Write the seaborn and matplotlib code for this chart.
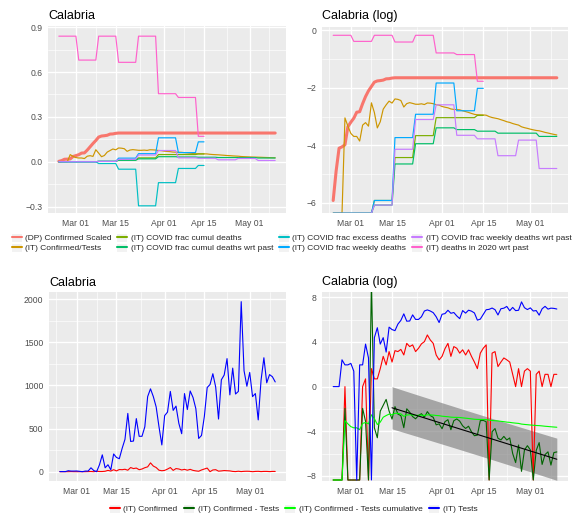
import numpy as np
import pandas as pd
import matplotlib
matplotlib.use("Agg")
import matplotlib.pyplot as plt
import matplotlib.dates as mdates
from matplotlib.lines import Line2D
from matplotlib.patches import Rectangle
import seaborn as sns

sns.set_theme(style="darkgrid")
plt.rcParams["font.family"] = ["Liberation Sans", "DejaVu Sans"]

# ---------------- data ----------------
dates = pd.date_range("2020-02-24", "2020-05-10", freq="D")   # 77 days

# (DP) Confirmed Scaled (daily)
dp_confirmed_scaled = [0.0027, 0.0075, 0.0166, 0.0174, 0.0187, 0.035, 0.041, 0.047,
                       0.058, 0.059, 0.078, 0.100, 0.122, 0.142, 0.165, 0.172, 0.174,
                       0.177, 0.185, 0.186, 0.190] + [0.192] * 56

# weekly ISTAT-like fractions (weeks starting Feb 24, Mar 02, ...)
deaths_2020_wrt_past_w = [0.84, 0.68, 0.84, 0.665, 0.84, 0.455, 0.43, 0.17]
covid_frac_excess_w = [0.0, 0.0, -0.012, -0.05, -0.295, -0.14, -0.045, -0.025]
covid_frac_weekly_w = [0.0, 0.0, 0.0027, 0.024, 0.054, 0.16, 0.061, 0.133]
covid_frac_cumul_w = [0.0, 0.0, 0.0027, 0.012, 0.0257, 0.048, 0.048, 0.052]
covid_frac_cumul_past_w = [0.0, 0.0, 0.0023, 0.0096, 0.0194, 0.0337, 0.0317, 0.030,
                           0.028, 0.028, 0.025]
covid_frac_weekly_past_w = [0.0, 0.0, 0.0023, 0.016, 0.045, 0.075, 0.026, 0.023,
                            0.0128, 0.022, 0.0082]
last_weekly_day = 51   # weekly series that stop at Apr 15

# daily confirmed cases and tests
confirmed = [0, 0, 0, 0, 1, 0, 0, 0, 0, 0, 1, 2, 0, 5, 2, 2, 5, 15, 7, 23, 9,
             25, 23, 28, 17, 48, 36, 42, 23, 31, 46, 56, 102, 65, 48, 17, 11, 15,
             30, 48, 15, 36, 31, 20, 27, 17, 27, 15, 9, 5, 20, 31, 42, 0, 20, 23,
             6, 9, 13, 11, 9, 3, 1, 5, 1, 4, 5, 4, 0, 3, 4, 1, 3, 3, 1, 3, 3]
tests = [1, 1, 1, 11, 7, 7, 8, 4, 0, 7, 7, 45, 13, 0, 80, 195, 45, 80, 22, 205, 165,
         150, 270, 375, 675, 350, 355, 615, 410, 410, 520, 870, 960, 870, 750, 520,
         310, 650, 690, 930, 710, 760, 560, 440, 905, 720, 935, 860, 730, 385, 420,
         640, 975, 1010, 1135, 980, 610, 1065, 1120, 1310, 890, 1200, 900, 930, 1970,
         1170, 990, 1150, 870, 905, 600, 1060, 1320, 1030, 1125, 1100, 1040]

# ---------------- derived tables ----------------
N = len(dates)


def weekly_to_daily(w, last=None):
    a = np.repeat(np.asarray(w, float), 7)
    out = np.full(N, np.nan)
    n = min(len(a), N if last is None else last + 1)
    out[:n] = a[:n]
    return out


conf = np.asarray(confirmed, float)
tst = np.asarray(tests, float)
cum_c = np.cumsum(conf)
cum_t = np.cumsum(tst)
conf_over_tests = np.where(cum_t > 0, cum_c / np.where(cum_t > 0, cum_t, 1), np.nan)

top_names = ["(DP) Confirmed Scaled", "(IT) Confirmed/Tests", "(IT) COVID frac cumul deaths",
             "(IT) COVID frac cumul deaths wrt past", "(IT) COVID frac excess deaths",
             "(IT) COVID frac weekly deaths", "(IT) COVID frac weekly deaths wrt past",
             "(IT) deaths in 2020 wrt past"]
top_colors = ["#F8766D", "#CD9600", "#7CAE00", "#00BE67", "#00BFC4", "#00A9FF",
              "#C77CFF", "#FF61CC"]
top_values = [np.asarray(dp_confirmed_scaled, float), conf_over_tests,
              weekly_to_daily(covid_frac_cumul_w, last_weekly_day),
              weekly_to_daily(covid_frac_cumul_past_w),
              weekly_to_daily(covid_frac_excess_w, last_weekly_day),
              weekly_to_daily(covid_frac_weekly_w, last_weekly_day),
              weekly_to_daily(covid_frac_weekly_past_w),
              weekly_to_daily(deaths_2020_wrt_past_w, last_weekly_day)]

FLOOR_T = -6.36
FLOOR_B = -8.36
CEIL_B = 9.5


def log_floor(v, floor):
    a = np.asarray(v, float)
    out = np.full(a.shape, np.nan)
    pos = a > 0
    out[pos] = np.log(a[pos])
    out[a == 0] = floor
    return out


top_df = pd.concat([pd.DataFrame({"date": dates, "series": n, "value": v,
                                  "logvalue": log_floor(v, FLOOR_T)})
                    for n, v in zip(top_names, top_values)])

log_conf = log_floor(conf, FLOOR_B)
log_tests = log_floor(tst, FLOOR_B)
diff = np.where((conf > 0) & (tst > 0),
                np.log(np.where(conf > 0, conf, 1) / np.where(tst > 0, tst, 1)),
                np.where(conf == 0, FLOOR_B, CEIL_B))
cum_diff = np.where(cum_c > 0, np.log(np.where(cum_c > 0, cum_c, 1) / cum_t), FLOOR_B)

bot_names = ["(IT) Confirmed", "(IT) Confirmed - Tests",
             "(IT) Confirmed - Tests cumulative", "(IT) Tests"]
bot_colors = ["#FF0000", "#006400", "#00FF00", "#0000FF"]

lin_df = pd.concat([pd.DataFrame({"date": dates, "series": n, "value": v})
                    for n, v in [("(IT) Confirmed", conf), ("(IT) Tests", tst)]])
log_df = pd.concat([pd.DataFrame({"date": dates, "series": n, "value": v})
                    for n, v in zip(bot_names, [log_conf, diff, cum_diff, log_tests])])

# linear fit (with prediction band) of Confirmed - Tests from Mar 15
day = np.arange(N)
sel = (day >= 20) & (tst > 0)
xr, yr = day[sel], diff[sel]
coef = np.polyfit(xr, yr, 1)
xs = np.arange(20, N)
yhat = np.polyval(coef, xs)
resid = yr - np.polyval(coef, xr)
nn = len(xr)
s = np.sqrt(np.sum(resid ** 2) / (nn - 2))
se = s * np.sqrt(1 + 1 / nn + (xs - xr.mean()) ** 2 / np.sum((xr - xr.mean()) ** 2))
band_lo, band_hi = yhat - 2.0 * se, yhat + 2.0 * se
fit_dates = dates[20:]

# ---------------- figure ----------------
W, H = 573, 515
fig = plt.figure(figsize=(W / 100, H / 100), dpi=100)


def rect(x0, y0, x1, y1):
    return [x0 / W, 1 - y1 / H, (x1 - x0) / W, (y1 - y0) / H]


ax_tl = fig.add_axes(rect(48, 26, 286, 213))
ax_tr = fig.add_axes(rect(322, 27, 568, 213))
ax_bl = fig.add_axes(rect(49, 292, 286, 481))
ax_br = fig.add_axes(rect(322, 292, 568, 481))

major_dates = pd.to_datetime(["2020-03-01", "2020-03-15", "2020-04-01", "2020-04-15",
                              "2020-05-01"])
minor_dates = pd.to_datetime(["2020-02-22 12:00", "2020-03-08 00:00", "2020-03-23 12:00",
                              "2020-04-08 00:00", "2020-04-23 00:00", "2020-05-08 00:00"])
x0 = mdates.date2num(dates[0]) - 3.8
x1 = mdates.date2num(dates[-1]) + 3.8


def style(ax, yticks, ylabels, yminor, ylim):
    ax.set_facecolor("#EBEBEB")
    for sp in ax.spines.values():
        sp.set_visible(False)
    ax.set_xlim(x0, x1)
    ax.set_ylim(*ylim)
    ax.set_xticks(mdates.date2num(major_dates))
    ax.set_xticks(mdates.date2num(minor_dates), minor=True)
    ax.xaxis.set_major_formatter(mdates.DateFormatter("%b %d"))
    ax.set_yticks(yticks)
    ax.set_yticklabels(ylabels)
    ax.set_yticks(yminor, minor=True)
    ax.grid(which="major", color="white", lw=0.95)
    ax.grid(which="minor", color="white", lw=0.45)
    ax.tick_params(which="major", length=2.5, width=0.5, color="#333333",
                   labelcolor="#4D4D4D", labelsize=6.2, pad=1.5)
    ax.tick_params(which="minor", length=0)
    ax.set_xlabel("")
    ax.set_ylabel("")
    ax.set_axisbelow(True)


def draw(ax, df, col, names, colors, lws):
    for n, c, lw in zip(names, colors, lws):
        d = df[df["series"] == n][["date", col]].dropna()
        sns.lineplot(data=d, x="date", y=col, color=c, lw=lw, ax=ax,
                     estimator=None, legend=False)


top_lws = [2.2] + [0.85] * 7
draw(ax_tl, top_df, "value", top_names, top_colors, top_lws)
draw(ax_tr, top_df, "logvalue", top_names, top_colors, top_lws)

draw(ax_bl, lin_df, "value", ["(IT) Confirmed", "(IT) Tests"], ["#FF0000", "#0000FF"],
     [0.8, 0.8])
draw(ax_br, log_df, "value", bot_names, bot_colors, [0.8] * 4)
ax_br.fill_between(fit_dates, band_lo, band_hi, color="#7A7A7A", alpha=0.62, lw=0)
sns.lineplot(x=fit_dates, y=yhat, color="black", lw=0.8, ax=ax_br)

style(ax_tl, [-0.3, 0, 0.3, 0.6, 0.9], ["\u22120.3", "0.0", "0.3", "0.6", "0.9"],
      [-0.15, 0.15, 0.45, 0.75], (-0.343, 0.908))
style(ax_tr, [-6, -4, -2, 0], ["\u22126", "\u22124", "\u22122", "0"],
      [-5, -3, -1], (-6.35, 0.114))
style(ax_bl, [0, 500, 1000, 1500, 2000], ["0", "500", "1000", "1500", "2000"],
      [250, 750, 1250, 1750], (-108, 2082))
style(ax_br, [-8, -4, 0, 4, 8], ["\u22128", "\u22124", "0", "4", "8"],
      [-6, -2, 2, 6], (-8.45, 8.47))

# titles
for (xp, yp, t) in [(48, 19, "Calabria"), (322, 19, "Calabria (log)"),
                    (49, 285.5, "Calabria"), (322, 285.5, "Calabria (log)")]:
    fig.text(xp / W, 1 - yp / H, t, fontsize=9, ha="left", va="baseline", color="black")


def legend_handles(colors):
    return [(Rectangle((0, 0), 1, 1, facecolor="#F2F2F2", edgecolor="none"),
             Line2D([], [], color=c, lw=1.5)) for c in colors]


common = dict(frameon=False, fontsize=6, handlelength=1.2, handleheight=1.1,
              handletextpad=0.42, columnspacing=0.68, labelspacing=0.15,
              borderpad=0, borderaxespad=0, loc="upper left")
fig.legend(legend_handles(top_colors), top_names, ncol=4,
           bbox_to_anchor=(11.5 / W, 1 - 233.5 / H), **common)
fig.legend(legend_handles(bot_colors), bot_names, ncol=4,
           bbox_to_anchor=(109.6 / W, 1 - 504.5 / H),
           **{**common, "columnspacing": 0.8})

fig.savefig("out.png", dpi=100, facecolor="white")
